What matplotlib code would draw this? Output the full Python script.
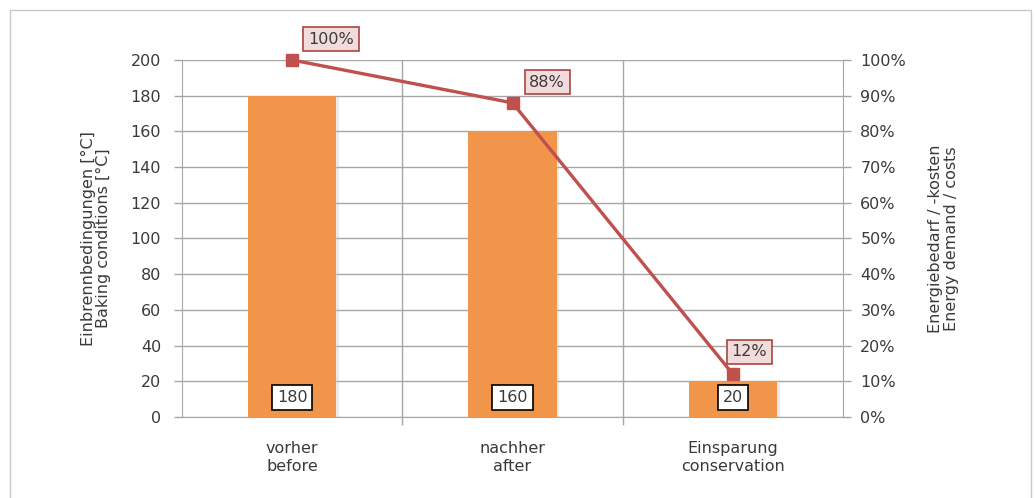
import numpy as np
import matplotlib.pyplot as plt
from matplotlib.patches import Rectangle
from matplotlib.ticker import PercentFormatter

# ---- data ----
categories = ['vorher\nbefore', 'nachher\nafter', 'Einsparung\nconservation']
temps = [180, 160, 20]          # baking conditions [°C]
energy = [1.00, 0.88, 0.12]     # energy demand / costs (share)
energy_labels = ['100%', '88%', '12%']

bar_color = '#f0954a'
line_color = '#c0504d'
txt = '#3a3a3a'
grid_col = '#a6a6a6'

plt.rcParams['font.family'] = ['DejaVu Sans']
plt.rcParams['font.size'] = 11.5

fig = plt.figure(figsize=(10.36, 4.98), dpi=100)
ax = fig.add_axes([0.1757, 0.1627, 0.6380, 0.7168])

# light frame around the whole figure
fig.patches.append(Rectangle((0.0097, -0.05), 0.985, 1.03, transform=fig.transFigure,
                             fill=False, edgecolor='#c8c8c8', linewidth=1.0))

x = np.arange(len(categories))

# bars with a faint shadow
ax.bar(x + 0.012, np.array(temps) - 1, width=0.4, color='#c4c4c4', alpha=0.35, zorder=2)
ax.bar(x, temps, width=0.4, color=bar_color, zorder=3)

for xi, t in zip(x, temps):
    ax.annotate(str(t), xy=(xi, 0), xytext=(0, 14), textcoords='offset points',
                ha='center', va='center', color=txt, zorder=6,
                bbox=dict(boxstyle='square,pad=0.3', fc='white', ec='black', lw=1.2))

ax.set_xlim(-0.5, 2.5)
ax.set_ylim(0, 200)
ax.set_yticks(np.arange(0, 201, 20))
ax.set_xticks(x)
ax.set_xticklabels(categories, color=txt, linespacing=1.25)
ax.set_xticks([0.5, 1.5], minor=True)
ax.tick_params(axis='x', which='major', length=0, pad=17)
ax.tick_params(axis='x', which='minor', length=6, color=grid_col, width=1)
ax.tick_params(axis='y', length=6, color=grid_col, colors=txt, width=1, pad=9)
ax.grid(axis='y', color=grid_col, linewidth=1, zorder=0)
ax.grid(axis='x', which='minor', color=grid_col, linewidth=1, zorder=0)
ax.set_axisbelow(True)
for s in ['left', 'right', 'bottom']:
    ax.spines[s].set_color(grid_col)
ax.spines['top'].set_visible(False)
ax.set_ylabel('Einbrennbedingungen [°C]\nBaking conditions [°C]', color=txt, labelpad=14,
              linespacing=1.05)

# energy line on right axis
ax2 = ax.twinx()
ax2.plot(x, energy, color=line_color, linewidth=2.4, marker='s', markersize=8.5, zorder=5,
         clip_on=False)
ax2.set_ylim(0, 1)
ax2.set_yticks(np.arange(0, 1.01, 0.1))
ax2.yaxis.set_major_formatter(PercentFormatter(1.0, decimals=0))
ax2.tick_params(axis='y', length=6, color=grid_col, colors=txt, width=1, pad=6.5)
for s in ['left', 'right', 'bottom', 'top']:
    ax2.spines[s].set_visible(False)
ax2.set_ylabel('Energiebedarf / -kosten\nEnergy demand / costs', color=txt, labelpad=16,
               linespacing=1.05)

offsets = [(28, 15), (25, 15), (12, 16)]
for xi, e, lab, off in zip(x, energy, energy_labels, offsets):
    ax2.annotate(lab, xy=(xi, e), xytext=off, textcoords='offset points',
                 ha='center', va='center', color=txt, zorder=7,
                 bbox=dict(boxstyle='square,pad=0.3', fc='#f2dcdb', ec='#a94442', lw=1.2))

fig.savefig('out.png', dpi=100)
